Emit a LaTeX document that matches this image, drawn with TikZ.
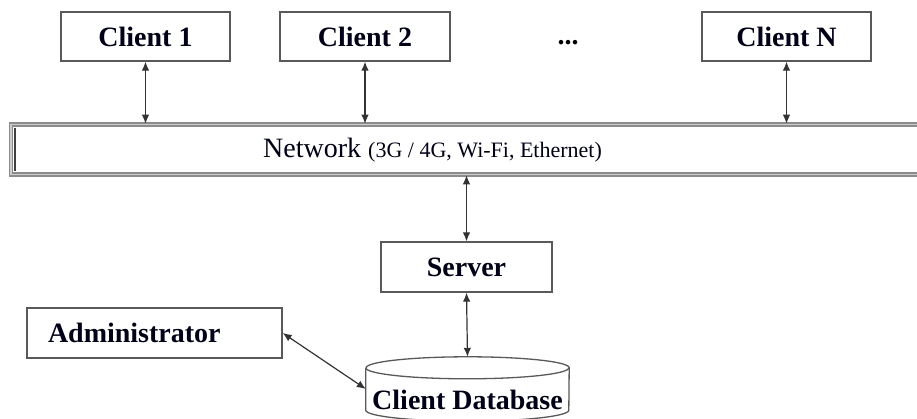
\documentclass[tikz,border=0pt]{standalone}
\usepackage{fontspec}
\setmainfont{Liberation Serif}
\usetikzlibrary{arrows.meta}
\begin{document}
\begin{tikzpicture}[x=1pt,y=1pt,
  box/.style={draw=black!65, line width=1.3pt, fill=white, inner sep=0pt,
    font=\fontsize{28}{32}\selectfont\bfseries, text=black!90!blue},
  link/.style={draw=black!80, line width=1.2pt, {Latex[length=9pt,width=7.5pt]}-{Latex[length=9pt,width=7.5pt]}},
  frame/.style={draw=black!65, line width=1.3pt}
]
\useasboundingbox (0,0) rectangle (917,419);
% clients
\node[box, minimum width=169pt, minimum height=49pt] (c1) at (145.5,382.5) {Client 1};
\node[box, minimum width=170pt, minimum height=49pt] (c2) at (365,382.5) {Client 2};
\node[box, minimum width=169pt, minimum height=49pt] (cn) at (786.5,382.5) {Client N};
\node[anchor=base, font=\fontsize{28}{32}\selectfont\bfseries, inner sep=0pt] (dots) at (568,374) {...};
% network bar
\node[draw=black!45, line width=1.6pt, double=black!20, double distance=1.4pt,
      minimum width=940pt, minimum height=50pt, inner sep=0pt, anchor=west] (net) at (10,269.5) {};
\draw[black!75, line width=2.4pt] ([xshift=5pt,yshift=-4pt]net.north west) -- ([xshift=5pt,yshift=4pt]net.south west);
\node[anchor=base west, inner sep=0pt, text=black!90!blue] (nettext) at (263,261)
  {\fontsize{28}{32}\selectfont Network \fontsize{22}{26}\selectfont(3G / 4G, Wi-Fi, Ethernet)};
% server
\node[box, minimum width=171pt, minimum height=50pt] (srv) at (466.5,152) {Server};
% administrator
\node[box, minimum width=255pt, minimum height=50pt, text width=213pt, align=left] (adm) at (154.5,86) {Administrator};
% database
\node[minimum width=203pt, minimum height=42pt, inner sep=0pt] (db) at (467.5,30) {};
\draw[frame, fill=white] (db.north west) -- (db.south west)
   arc[start angle=180, end angle=360, x radius=101.5pt, y radius=11pt]
   -- (db.north east)
   arc[start angle=0, end angle=180, x radius=101.5pt, y radius=11pt];
\draw[frame] (db.north west) arc[start angle=180, end angle=360, x radius=101.5pt, y radius=11pt];
\node[font=\fontsize{28}{32}\selectfont\bfseries, text=black!90!blue, inner sep=0pt] (dbtext) at (467.5,19) {Client Database};
% connectors
\draw[link] (c1.south) -- (c1.south |- net.north);
\draw[link] (c2.south) -- (c2.south |- net.north);
\draw[link] (cn.south) -- (cn.south |- net.north);
\draw[link] (srv.north |- net.south) -- (srv.north);
\draw[link] (srv.south) -- ([yshift=11pt]db.north);
\draw[link] (adm.east) -- (db.west);
\end{tikzpicture}
\end{document}
